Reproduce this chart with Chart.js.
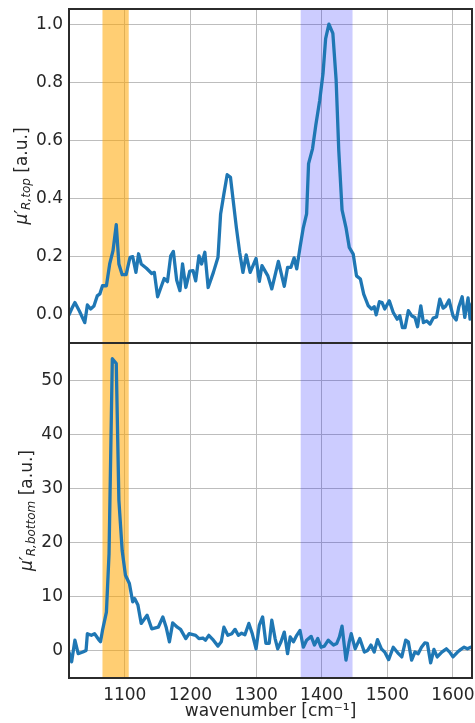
<!DOCTYPE html>
<html>
<head>
<meta charset="utf-8">
<script src="https://cdn.jsdelivr.net/npm/chart.js@4/dist/chart.umd.min.js"></script>
<style>
  html, body { margin: 0; padding: 0; background: #ffffff; }
  #wrap { position: relative; width: 475px; height: 723px; overflow: hidden; background: #ffffff; }
  canvas { position: absolute; left: 0; }
  #topCanvas { top: 0; }
  #bottomCanvas { top: 341px; }
</style>
</head>
<body>
<div id="wrap">
  <canvas id="topCanvas" width="475" height="345"></canvas>
  <canvas id="bottomCanvas" width="475" height="382"></canvas>
</div>
<script>
// Wavenumber axis (cm^-1)
const xRange = [1015, 1629];
const xTickValues = [1100, 1200, 1300, 1400, 1500, 1600];

// Highlighted bands (cm^-1)
const orangeBand = [1066, 1106];
const blueBand = [1368, 1447];

// Upper panel: mu'_R,top
const topWavenumber = [
  1015, 1020, 1024, 1031, 1039, 1043, 1048, 1053, 1058, 1062, 1066, 1072, 1077, 1082, 1087, 1091,
  1096, 1102, 1108, 1112, 1117, 1121, 1125, 1133, 1141, 1145, 1150, 1155, 1160, 1165, 1170, 1174,
  1179, 1184, 1188, 1193, 1199, 1204, 1208, 1213, 1217, 1222, 1227, 1235, 1242, 1246, 1251, 1256,
  1261, 1270, 1275, 1280, 1285, 1291, 1300, 1305, 1309, 1318, 1324, 1334, 1343, 1348, 1353, 1358,
  1362, 1367, 1372, 1377, 1380, 1386, 1391, 1397, 1402, 1406, 1411, 1417, 1422, 1426, 1431, 1437,
  1442, 1448, 1453, 1459, 1464, 1471, 1476, 1480, 1483, 1488, 1492, 1496, 1503, 1509, 1515, 1519,
  1523, 1527, 1532, 1537, 1542, 1546, 1551, 1555, 1560, 1565, 1570, 1575, 1580, 1585, 1589, 1594,
  1600, 1605, 1609, 1614, 1618, 1623, 1626, 1629
];
const topIntensity = [
  0.000, 0.025, 0.042, 0.012, -0.027, 0.034, 0.020, 0.030, 0.065, 0.072, 0.100, 0.100, 0.175, 0.220, 0.310, 0.175,
  0.138, 0.138, 0.198, 0.200, 0.146, 0.210, 0.175, 0.160, 0.142, 0.146, 0.062, 0.094, 0.125, 0.114, 0.203, 0.218,
  0.120, 0.083, 0.175, 0.094, 0.150, 0.152, 0.117, 0.203, 0.175, 0.215, 0.094, 0.146, 0.198, 0.347, 0.416, 0.482,
  0.473, 0.300, 0.215, 0.146, 0.206, 0.146, 0.194, 0.115, 0.169, 0.134, 0.089, 0.184, 0.098, 0.163, 0.163, 0.196,
  0.158, 0.232, 0.300, 0.347, 0.520, 0.571, 0.652, 0.738, 0.830, 0.950, 1.000, 0.968, 0.807, 0.566, 0.361, 0.300,
  0.232, 0.209, 0.134, 0.123, 0.071, 0.031, 0.020, 0.028, 0.000, 0.045, 0.042, 0.020, 0.048, 0.008, -0.015, -0.003,
  -0.044, -0.044, 0.014, -0.003, -0.009, -0.041, 0.031, -0.027, -0.021, -0.032, -0.011, -0.007, 0.054, 0.023, 0.030, 0.051,
  -0.003, -0.018, 0.028, 0.062, -0.009, 0.058, -0.015, 0.038
];
const topRange = [-0.097, 1.052];
const topTickValues = [0.0, 0.2, 0.4, 0.6, 0.8, 1.0];
const topTickLabels = ['0.0', '0.2', '0.4', '0.6', '0.8', '1.0'];

// Lower panel: mu'_R,bottom
const bottomWavenumber = [
  1015, 1019, 1024, 1029, 1036, 1041, 1043, 1049, 1054, 1061, 1063, 1066, 1072, 1076, 1081, 1087,
  1091, 1096, 1101, 1107, 1112, 1115, 1120, 1125, 1134, 1141, 1151, 1158, 1163, 1168, 1173, 1180,
  1185, 1193, 1198, 1208, 1213, 1219, 1223, 1228, 1235, 1242, 1247, 1251, 1257, 1263, 1268, 1273,
  1278, 1283, 1289, 1294, 1300, 1305, 1310, 1315, 1320, 1324, 1329, 1333, 1338, 1343, 1348, 1352,
  1357, 1362, 1367, 1372, 1377, 1384, 1389, 1394, 1399, 1404, 1410, 1418, 1423, 1427, 1431, 1437,
  1442, 1445, 1451, 1458, 1465, 1470, 1475, 1480, 1485, 1491, 1496, 1502, 1509, 1517, 1522, 1528,
  1532, 1537, 1542, 1547, 1552, 1557, 1561, 1566, 1571, 1576, 1583, 1590, 1595, 1600, 1607, 1612,
  1617, 1622, 1627
];
const bottomIntensity = [
  -0.2, -2.0, 2.0, -0.5, -0.2, 0.1, 3.2, 2.9, 3.2, 2.0, 1.7, 3.8, 7.2, 18.0, 54.1, 53.2,
  27.9, 18.6, 14.0, 12.5, 9.1, 9.7, 8.5, 5.1, 6.6, 4.1, 4.4, 6.3, 4.4, 1.7, 5.2, 4.4,
  4.0, 2.3, 3.2, 2.9, 2.3, 2.4, 2.0, 2.9, 2.0, 0.9, 1.7, 4.4, 2.9, 3.2, 4.0, 2.9,
  3.3, 3.0, 5.1, 3.3, 0.4, 4.8, 6.3, 1.4, 1.4, 5.7, 2.3, 0.4, 1.7, 3.5, -0.5, 2.6,
  1.7, 2.9, 3.8, 0.7, 2.0, 2.7, 1.1, 2.3, 0.7, 0.9, 2.0, 1.1, 1.4, 2.6, 4.6, -1.7,
  1.7, 3.2, 0.4, 2.3, -0.2, 0.1, 1.1, -0.2, 2.1, 0.4, -0.2, -1.6, 0.7, -0.5, -1.1, 2.0,
  1.7, -1.7, -0.2, -0.5, 0.7, 1.5, 1.4, -2.2, 0.3, -1.1, -0.2, 0.4, -0.2, -1.1, -0.2, 0.3,
  0.7, 0.4, 0.7
];
const bottomRange = [-5.0, 57.0];
const bottomTickValues = [0, 10, 20, 30, 40, 50];
const bottomTickLabels = ['0', '10', '20', '30', '40', '50'];

const xTitle = 'wavenumber [cm\u207B\u00B9]';

const FONT = 'DejaVu Sans';
const TEXT_COLOR = '#262626';
const GRID_COLOR = '#bdbdbd';
const FRAME_COLOR = '#2b2b2b';
const LINE_COLOR = '#1f77b4';
const AXIS_WIDTH = 69;

function toPoints(xs, ys) {
  return xs.map((x, i) => ({ x: x, y: ys[i] }));
}

// Scales should not reserve room for overhanging end labels
function noScalePadding(s) {
  s.paddingTop = 0;
  s.paddingBottom = 0;
  s.paddingLeft = 0;
  s.paddingRight = 0;
}

// Shaded bands, drawn above the grid and below the curve
const bandPlugin = {
  id: 'bands',
  beforeDatasetsDraw(chart) {
    const { ctx, chartArea, scales } = chart;
    const bands = [
      { range: orangeBand, color: 'rgba(255,165,0,0.55)' },
      { range: blueBand, color: 'rgba(0,0,255,0.2)' }
    ];
    ctx.save();
    bands.forEach(b => {
      const x0 = scales.x.getPixelForValue(b.range[0]);
      const x1 = scales.x.getPixelForValue(b.range[1]);
      ctx.fillStyle = b.color;
      ctx.fillRect(x0, chartArea.top, x1 - x0, chartArea.bottom - chartArea.top);
    });
    ctx.restore();
  }
};

// Full box around each panel
const framePlugin = {
  id: 'frame',
  afterDraw(chart) {
    const { ctx, chartArea } = chart;
    ctx.save();
    ctx.strokeStyle = FRAME_COLOR;
    ctx.lineWidth = 2;
    ctx.strokeRect(chartArea.left, chartArea.top, chartArea.right - chartArea.left, chartArea.bottom - chartArea.top);
    ctx.restore();
  }
};

// Rotated y-axis label: italic mu-prime with a subscript, then units
function yLabelPlugin(sub, xCenter) {
  return {
    id: 'ylabel',
    afterDraw(chart) {
      const { ctx, chartArea } = chart;
      const yCenter = (chartArea.top + chartArea.bottom) / 2;
      const mainFont = 'italic 17px "' + FONT + '"';
      const subFont = 'italic 12px "' + FONT + '"';
      const unitFont = '17px "' + FONT + '"';
      const parts = [
        { text: '\u03BC\u2032', font: mainFont, dy: 0 },
        { text: sub, font: subFont, dy: 4 },
        { text: ' [a.u.]', font: unitFont, dy: 0 }
      ];
      ctx.save();
      let total = 0;
      parts.forEach(p => { ctx.font = p.font; p.w = ctx.measureText(p.text).width; total += p.w; });
      ctx.translate(xCenter, yCenter);
      ctx.rotate(-Math.PI / 2);
      ctx.fillStyle = TEXT_COLOR;
      ctx.textBaseline = 'middle';
      ctx.textAlign = 'left';
      let pos = -total / 2;
      parts.forEach(p => {
        ctx.font = p.font;
        ctx.fillText(p.text, pos, p.dy);
        pos += p.w;
      });
      ctx.restore();
    }
  };
}

function makeChart(canvasId, pts, yRange, yTicks, yLabels, opts) {
  const tickFont = { family: FONT, size: 17 };
  return new Chart(document.getElementById(canvasId), {
    type: 'line',
    data: {
      datasets: [{
        data: pts,
        borderColor: LINE_COLOR,
        borderWidth: 3.3,
        pointRadius: 0,
        tension: 0,
        borderJoinStyle: 'round',
        borderCapStyle: 'round',
        fill: false
      }]
    },
    options: {
      responsive: false,
      animation: false,
      devicePixelRatio: 1,
      layout: { padding: opts.padding },
      plugins: { legend: { display: false }, tooltip: { enabled: false } },
      scales: {
        x: {
          type: 'linear',
          min: xRange[0],
          max: xRange[1],
          afterBuildTicks: s => { s.ticks = xTickValues.map(v => ({ value: v })); },
          afterFit: s => { s.height = opts.xHeight; noScalePadding(s); },
          grid: { color: GRID_COLOR, lineWidth: 1, drawTicks: false },
          border: { display: false },
          ticks: {
            display: opts.showX,
            padding: 7,
            color: TEXT_COLOR,
            font: tickFont,
            maxRotation: 0,
            autoSkip: false,
            callback: v => String(v)
          },
          title: {
            display: opts.showX,
            text: xTitle,
            color: TEXT_COLOR,
            font: tickFont,
            padding: { top: 0, bottom: 1 }
          }
        },
        y: {
          type: 'linear',
          min: yRange[0],
          max: yRange[1],
          afterBuildTicks: s => { s.ticks = yTicks.map(v => ({ value: v })); },
          afterFit: s => { s.width = AXIS_WIDTH; noScalePadding(s); },
          grid: { color: GRID_COLOR, lineWidth: 1, drawTicks: false },
          border: { display: false },
          ticks: {
            padding: 6,
            color: TEXT_COLOR,
            font: tickFont,
            autoSkip: false,
            callback: (v) => {
              const i = yTicks.indexOf(v);
              return i >= 0 ? yLabels[i] : '';
            }
          }
        }
      }
    },
    plugins: [bandPlugin, framePlugin, yLabelPlugin(opts.sub, opts.labelX)]
  });
}

makeChart('topCanvas', toPoints(topWavenumber, topIntensity), topRange, topTickValues, topTickLabels, {
  padding: { top: 9, right: 3, bottom: 2, left: 0 },
  xHeight: 0,
  showX: false,
  sub: 'R,top',
  labelX: 23
});

makeChart('bottomCanvas', toPoints(bottomWavenumber, bottomIntensity), bottomRange, bottomTickValues, bottomTickLabels, {
  padding: { top: 2, right: 3, bottom: 0, left: 0 },
  xHeight: 45,
  showX: true,
  sub: 'R,bottom',
  labelX: 28
});
</script>
</body>
</html>
